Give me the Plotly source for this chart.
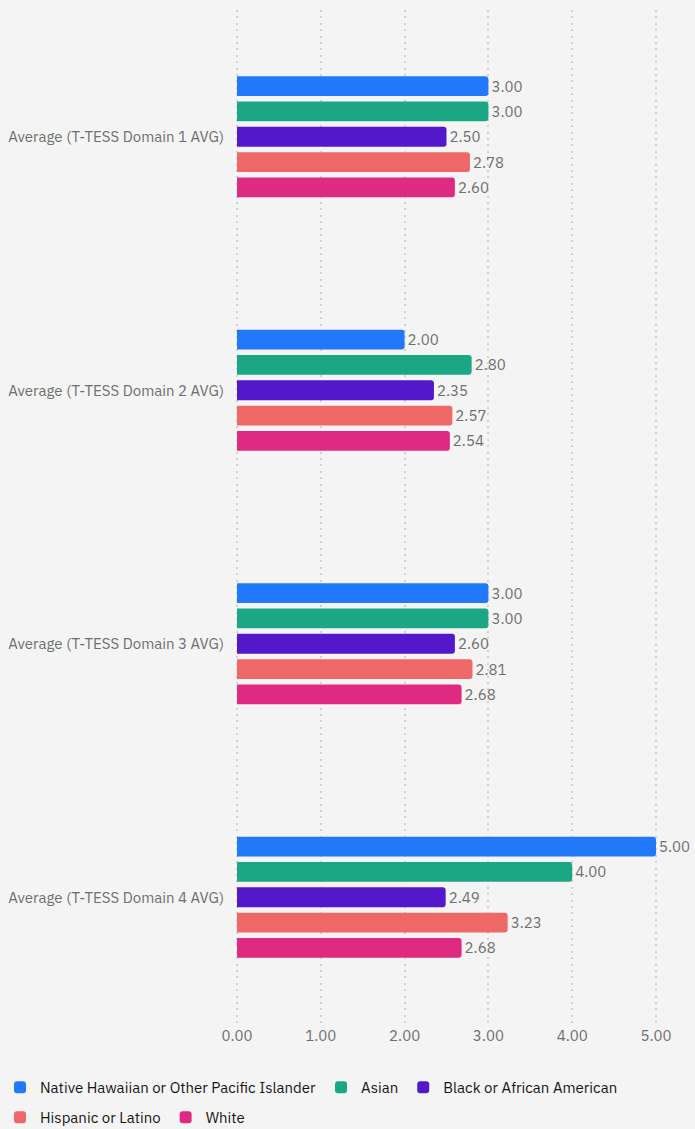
import plotly.graph_objects as go

categories = ["Average (T-TESS Domain 1 AVG)", "Average (T-TESS Domain 2 AVG)",
              "Average (T-TESS Domain 3 AVG)", "Average (T-TESS Domain 4 AVG)"]
series_names = ["Native Hawaiian or Other Pacific Islander", "Asian",
                "Black or African American", "Hispanic or Latino", "White"]
native_hawaiian = [3.00, 2.00, 3.00, 5.00]
asian = [3.00, 2.80, 3.00, 4.00]
black = [2.50, 2.35, 2.60, 2.49]
hispanic = [2.78, 2.57, 2.81, 3.23]
white = [2.60, 2.54, 2.68, 2.68]
tick_vals = [0, 1, 2, 3, 4, 5]
tick_text = ["0.00", "1.00", "2.00", "3.00", "4.00", "5.00"]

colors = ["#2178fb", "#1ba784", "#5218c9", "#ef6868", "#de2a81"]
values = [native_hawaiian, asian, black, hispanic, white]
legend_rows = ["legend", "legend", "legend", "legend2", "legend2"]

FONT = "IBM Plex Sans, Noto Sans, sans-serif"

fig = go.Figure()
for name, vals, col, lg in zip(series_names, values, colors, legend_rows):
    fig.add_trace(go.Bar(
        y=categories, x=vals, name=name, orientation="h", legend=lg,
        marker=dict(color=col, line=dict(width=0)),
        text=[f"{v:.2f}" for v in vals], textposition="outside",
        textfont=dict(color="#6f6f6f", size=15, family=FONT),
        cliponaxis=False,
    ))

W, H = 695, 1129
PAD = 3  # px of extra axis range so the edge gridlines are drawn
L, R, T, B = 237 - PAD, 39 - PAD, 10, 105
pw, ph = W - L - R, H - T - B
u = 5.0 / (pw - 2 * PAD)  # data units per pixel

legend_common = dict(orientation="h", xanchor="left", yanchor="top",
                     font=dict(size=15, color="#161616", family=FONT),
                     traceorder="normal", itemclick=False, bgcolor="rgba(0,0,0,0)")

fig.update_layout(
    width=W, height=H,
    paper_bgcolor="#f4f4f4", plot_bgcolor="#f4f4f4",
    barmode="group", bargap=0.5, bargroupgap=0.22, barcornerradius=3,
    margin=dict(l=L, r=R, t=T, b=B, autoexpand=False),
    font=dict(family=FONT, color="#6f6f6f", size=15),
    showlegend=True,
    legend=dict(x=-L / pw, y=-(1071 - (T + ph)) / ph, **legend_common),
    legend2=dict(x=-L / pw, y=-(1101 - (T + ph)) / ph, **legend_common),
)
fig.update_xaxes(range=[-PAD * u, 5 + PAD * u], tickvals=tick_vals, ticktext=tick_text,
                 showgrid=True, gridcolor="#d2d2d2", griddash="2px,4.4px", gridwidth=2,
                 zeroline=False, showline=False, ticks="", ticklabelstandoff=1,
                 tickfont=dict(color="#6f6f6f", size=15))
fig.update_yaxes(autorange="reversed", showgrid=False, zeroline=False, showline=False,
                 ticks="", ticklabelstandoff=9,
                 tickfont=dict(color="#6f6f6f", size=15))

fig.write_html("out.html", config={"displayModeBar": False},
               post_script="document.body.style.margin='0';document.body.style.overflow='hidden';")
